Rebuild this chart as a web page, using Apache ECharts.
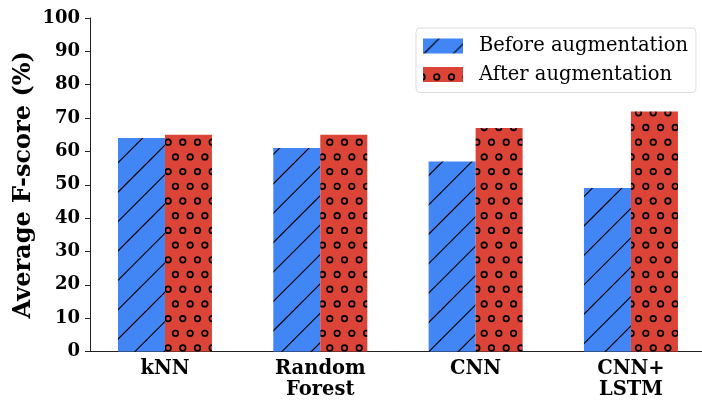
<!DOCTYPE html>
<html>
<head>
<meta charset="utf-8">
<style>
  html, body { margin: 0; padding: 0; background: #fff; }
  #chart { width: 702px; height: 403px; }
</style>
<script src="https://cdn.jsdelivr.net/npm/echarts@6/dist/echarts.min.js"></script>
</head>
<body>
<div id="chart"></div>
<script>
var categories = ["kNN", "Random\nForest", "CNN", "CNN+\nLSTM"];
var seriesNames = ["Before augmentation", "After augmentation"];
var beforeValues = [64, 61, 57, 49];
var afterValues = [65, 65, 67, 72];
var yTicks = [0, 10, 20, 30, 40, 50, 60, 70, 80, 90, 100];

var serif = "DejaVu Serif";

// hatch tiles, anchored to the canvas origin like matplotlib does
function hatchLines(bg) {
  var s = 29.4, T = s * 5;
  var c = document.createElement("canvas");
  c.width = T; c.height = T;
  var ctx = c.getContext("2d");
  ctx.fillStyle = bg;
  ctx.fillRect(0, 0, T, T);
  ctx.strokeStyle = "#000";
  ctx.lineWidth = 1.1;
  for (var k = -2; k < 12; k++) {
    var d = 16.1 + k * s;
    ctx.beginPath();
    ctx.moveTo(d + 20, -20);
    ctx.lineTo(d - T - 20, T + 20);
    ctx.stroke();
  }
  return c;
}

function hatchCircles(bg) {
  var s = 14.7, T = s * 10;
  var c = document.createElement("canvas");
  c.width = T; c.height = T;
  var ctx = c.getContext("2d");
  ctx.fillStyle = bg;
  ctx.fillRect(0, 0, T, T);
  ctx.strokeStyle = "#000";
  ctx.lineWidth = 1.7;
  var x0 = 6.4, y0 = 24.6 - 29.4;
  for (var r = -1; r < 12; r++) {
    var y = y0 + r * s;
    var xs = x0 + (r % 2 === 0 ? 0 : s / 2);
    for (var i = -2; i < 12; i++) {
      ctx.beginPath();
      ctx.arc(xs + i * s, y, 2.8, 0, Math.PI * 2);
      ctx.stroke();
    }
  }
  return c;
}

var blueFill = { image: hatchLines("#4285F4"), repeat: "repeat" };
var redFill = { image: hatchCircles("#DB4437"), repeat: "repeat" };

var myChart = echarts.init(document.getElementById("chart"));
var option = {
  animation: false,
  grid: {
    left: 87.3, width: 621.3, top: 18, bottom: 51.5,
    containLabel: false,
    outerBoundsMode: "none"
  },
  legend: {
    data: seriesNames,
    orient: "vertical",
    icon: "rect",
    left: 416,
    top: 28,
    padding: [8, 8, 8, 7],
    itemWidth: 40,
    itemHeight: 15,
    itemGap: 8.5,
    backgroundColor: "rgba(255,255,255,0.8)",
    borderColor: "#dddddd",
    borderWidth: 1,
    borderRadius: 4,
    textStyle: {
      fontFamily: serif,
      fontSize: 19.5,
      color: "#000",
      padding: [0, 0, 0, 11]
    }
  },
  xAxis: {
    type: "category",
    data: categories,
    axisLine: { lineStyle: { color: "#222", width: 1 } },
    axisTick: { alignWithLabel: true, length: 5, lineStyle: { color: "#222" } },
    axisLabel: {
      fontFamily: serif,
      fontWeight: "bold",
      fontSize: 19.5,
      color: "#000",
      margin: 7,
      lineHeight: 21
    }
  },
  yAxis: {
    type: "value",
    min: 0,
    max: 100,
    interval: 10,
    offset: -2.7,
    name: "Average F-score (%)",
    nameLocation: "middle",
    nameGap: 54,
    nameMoveOverlap: false,
    nameTextStyle: {
      fontFamily: serif,
      fontWeight: "bold",
      fontSize: 24,
      color: "#000"
    },
    splitLine: { show: false },
    axisLine: { show: true, lineStyle: { color: "#222", width: 1 } },
    axisTick: { show: true, length: 5, lineStyle: { color: "#222" } },
    axisLabel: {
      fontFamily: serif,
      fontWeight: "bold",
      fontSize: 18,
      color: "#000",
      margin: 10,
      formatter: function (v) { return yTicks.indexOf(v) >= 0 ? String(v) : ""; }
    }
  },
  series: [
    {
      name: seriesNames[0],
      type: "bar",
      data: beforeValues,
      barWidth: 47,
      barGap: "0%",
      itemStyle: { color: blueFill }
    },
    {
      name: seriesNames[1],
      type: "bar",
      data: afterValues,
      barWidth: 47,
      itemStyle: { color: redFill }
    }
  ]
};
myChart.setOption(option);
</script>
</body>
</html>
